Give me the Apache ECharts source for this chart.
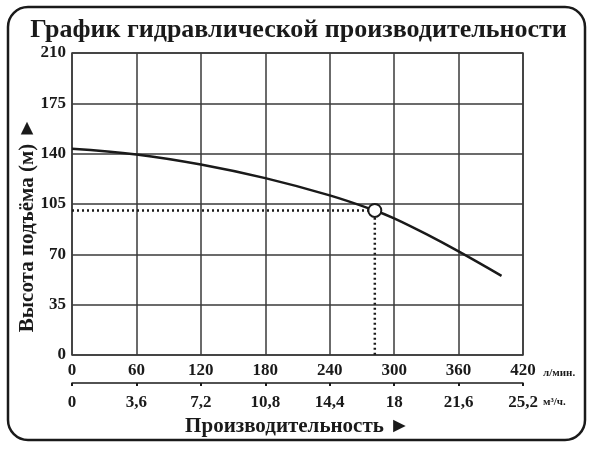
<!DOCTYPE html>
<html>
<head>
<meta charset="utf-8">
<script src="https://cdn.jsdelivr.net/npm/echarts@6/dist/echarts.min.js"></script>
<style>
  html, body { margin: 0; padding: 0; background: #fff; }
  #main { width: 597px; height: 449px; }
</style>
</head>
<body>
<div id="main"></div>
<script>
var chartDom = document.getElementById('main');
var myChart = echarts.init(chartDom);
var option;

// pump curve: flow (l/min) vs head (m)
const curve = [
  [0, 143.5], [60, 139.5], [120, 132.5], [180, 123], [240, 111],
  [282, 100.5], [300, 95], [330, 84], [360, 72], [400, 55]
];
const dutyPoint = [282, 100.5];
const flowTicks = [0, 60, 120, 180, 240, 300, 360, 420];
const m3hTicks = ['0', '3,6', '7,2', '10,8', '14,4', '18', '21,6', '25,2'];

const serif = '"Liberation Serif", "DejaVu Serif", serif';
const ink = '#1a1a1a';
const gridInk = '#3a3a3a';

option = {
  animation: false,
  backgroundColor: '#fff',
  title: {
    text: 'График гидравлической производительности',
    left: 'center',
    top: 12,
    textStyle: {
      fontFamily: serif,
      fontWeight: 'bold',
      fontSize: 26,
      color: ink
    }
  },
  grid: {
    left: 72,
    right: 74,
    top: 53,
    bottom: 94,
    show: true,
    borderColor: gridInk,
    borderWidth: 1.5
  },
  xAxis: [
    {
      type: 'value',
      min: 0,
      max: 420,
      interval: 60,
      axisLine: { show: false },
      axisTick: { show: false },
      axisLabel: { show: false },
      splitLine: { lineStyle: { color: gridInk, width: 1.5 } }
    },
    {
      type: 'value',
      position: 'bottom',
      offset: 28,
      min: 0,
      max: 420,
      interval: 60,
      axisLine: { show: true, onZero: false, lineStyle: { color: ink, width: 1.5 } },
      axisTick: { show: true, length: 3, lineStyle: { color: ink, width: 2 } },
      axisLabel: {
        inside: true,
        margin: 4,
        fontFamily: serif,
        fontWeight: 'bold',
        fontSize: 17,
        color: ink
      },
      splitLine: { show: false }
    },
    {
      type: 'value',
      position: 'bottom',
      offset: 28,
      min: 0,
      max: 420,
      interval: 60,
      axisLine: { show: false },
      axisTick: { show: false },
      axisLabel: {
        margin: 11,
        fontFamily: serif,
        fontWeight: 'bold',
        fontSize: 17,
        color: ink,
        formatter: function (v) {
          return m3hTicks[flowTicks.indexOf(v)];
        }
      },
      splitLine: { show: false },
      name: 'Производительность ►',
      nameLocation: 'middle',
      nameGap: 32,
      nameTextStyle: {
        fontFamily: serif,
        fontWeight: 'bold',
        fontSize: 21,
        color: ink
      }
    }
  ],
  yAxis: {
    type: 'value',
    min: 0,
    max: 210,
    interval: 35,
    axisLine: { show: false },
    axisTick: { show: false },
    axisLabel: {
      margin: 6,
      fontFamily: serif,
      fontWeight: 'bold',
      fontSize: 17,
      color: ink
    },
    splitLine: { lineStyle: { color: gridInk, width: 1.5 } }
  },
  graphic: [
    {
      type: 'rect',
      shape: { x: 8, y: 7, width: 577, height: 433, r: 20 },
      style: { fill: 'none', stroke: ink, lineWidth: 2.5 },
      silent: true
    },
    {
      type: 'text',
      x: 28,
      y: 225,
      rotation: Math.PI / 2,
      style: {
        text: 'Высота подъёма (м) ►',
        font: 'bold 21px ' + serif,
        fill: ink,
        align: 'center',
        verticalAlign: 'middle'
      },
      silent: true
    },
    {
      type: 'text',
      x: 543,
      y: 373,
      style: {
        text: 'л/мин.',
        font: 'bold 11px ' + serif,
        fill: ink,
        align: 'left',
        verticalAlign: 'middle'
      },
      silent: true
    },
    {
      type: 'text',
      x: 543,
      y: 402,
      style: {
        text: 'м³/ч.',
        font: 'bold 11px ' + serif,
        fill: ink,
        align: 'left',
        verticalAlign: 'middle'
      },
      silent: true
    }
  ],
  series: [
    {
      name: 'guide',
      type: 'line',
      xAxisIndex: 0,
      data: [[0, dutyPoint[1]], dutyPoint, [dutyPoint[0], 0]],
      symbol: 'none',
      lineStyle: { color: ink, width: 2.5, type: [2, 3] },
      z: 3
    },
    {
      name: 'curve',
      type: 'line',
      xAxisIndex: 0,
      data: curve,
      smooth: 0.4,
      symbol: 'none',
      lineStyle: { color: ink, width: 2.5 },
      z: 4
    },
    {
      name: 'point',
      type: 'scatter',
      xAxisIndex: 0,
      data: [dutyPoint],
      symbolSize: 13,
      itemStyle: { color: '#fff', opacity: 1, borderColor: ink, borderWidth: 2 },
      z: 5
    }
  ]
};

option && myChart.setOption(option);
</script>
</body>
</html>
